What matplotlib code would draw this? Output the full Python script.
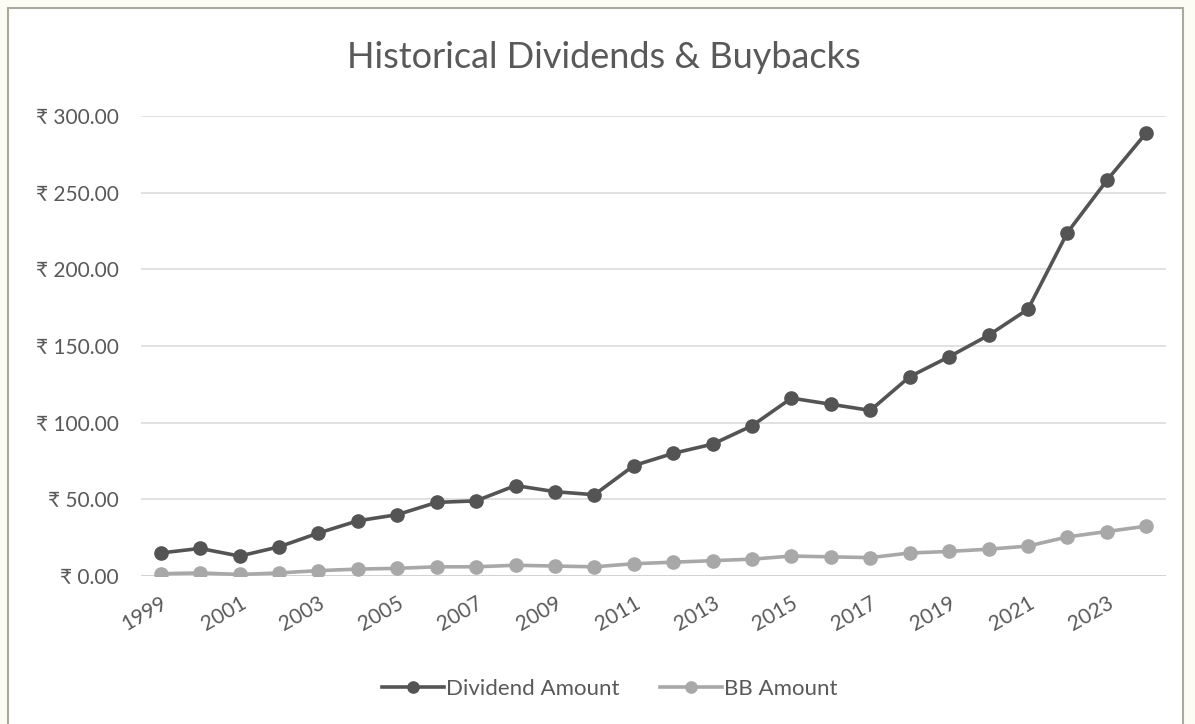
import matplotlib.pyplot as plt
from matplotlib.patches import Rectangle
from matplotlib.ticker import FuncFormatter

years = list(range(1999, 2025))
dividend = [15, 18, 13, 19, 28, 36, 40, 48, 49, 59, 55, 53, 72, 80, 86, 98,
            116, 112, 108, 130, 143, 157, 174, 224, 258, 289]
buyback = [1.5, 2, 1, 2, 3.5, 4.5, 5, 6, 6, 7, 6.5, 6, 8, 9, 10, 11,
           13, 12.5, 12, 15, 16, 17.5, 19.5, 25.5, 29, 32.5]
tick_years = years[::2]

plt.rcParams['font.family'] = ['Lato', 'DejaVu Sans']

fig = plt.figure(figsize=(11.95, 7.24), dpi=100)
fig.patch.set_facecolor('#fcfcf4')
# chart frame
fig.patches.append(Rectangle((8 / 1195, -0.05), 1175 / 1195, 1.05 - 8 / 724,
                             transform=fig.transFigure, facecolor='white',
                             edgecolor='#a9a99d', lw=1.5, zorder=-5))

ax = fig.add_axes([141 / 1195, 1 - 576 / 724, 1025 / 1195, 460 / 724])
ax.patch.set_alpha(0)

ax.plot(years, dividend, color='#545454', lw=2.6, marker='o', ms=9.5,
        label='Dividend Amount', zorder=3)
ax.plot(years, buyback, color='#a8a8a8', lw=2.6, marker='o', ms=9.5,
        label='BB Amount', zorder=3)

ax.set_xlim(years[0] - 0.5, years[-1] + 0.5)
ax.set_ylim(0, 300)
ax.set_yticks(range(0, 301, 50))
ax.yaxis.set_major_formatter(FuncFormatter(lambda v, p: '₹ %.2f' % v))
ax.set_xticks(tick_years)
ax.set_xticklabels([str(y) for y in tick_years], rotation=30, ha='right',
                   rotation_mode='anchor')
ax.grid(axis='y', color='#dcdcdc', lw=1.2)
ax.set_axisbelow(True)
for s in ax.spines.values():
    s.set_visible(False)
ax.axhline(0, color='#d0d0d0', lw=1.2, zorder=1)
ax.tick_params(length=0, labelsize=15, colors='#595959')
ax.tick_params(axis='y', pad=16)
ax.tick_params(axis='x', pad=12)

fig.text(604 / 1195, 1 - 58 / 724, 'Historical Dividends & Buybacks', ha='center',
         va='center', fontsize=26, color='#595959')

leg = ax.legend(loc='center', bbox_to_anchor=(610 / 1195, 1 - 689 / 724),
                bbox_transform=fig.transFigure, ncol=2, frameon=False,
                fontsize=16, labelcolor='#595959', handlelength=2.8,
                columnspacing=1.8, handletextpad=0.1, markerscale=0.85)

fig.savefig('out.png', dpi=100)
